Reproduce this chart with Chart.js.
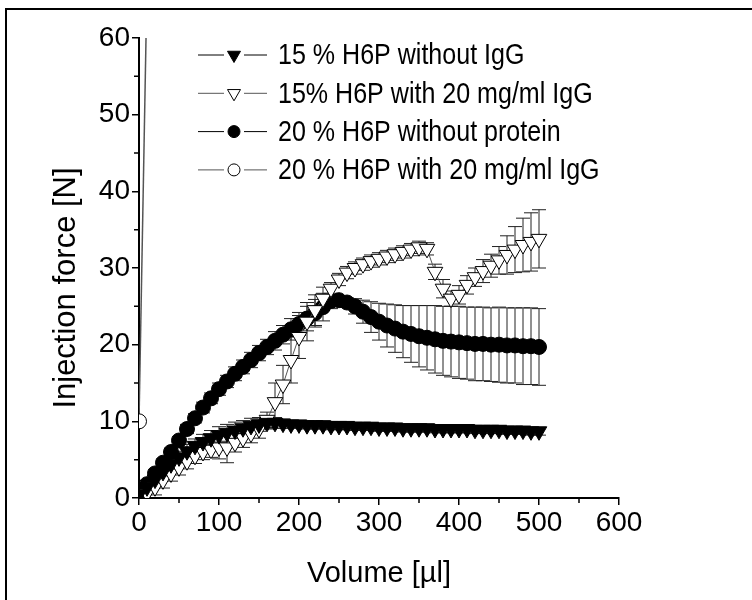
<!DOCTYPE html>
<html>
<head>
<meta charset="utf-8">
<script src="https://cdn.jsdelivr.net/npm/chart.js@4/dist/chart.umd.min.js"></script>
<style>
  html, body { margin: 0; padding: 0; background: #fff; }
  #wrap { position: relative; width: 752px; height: 600px; overflow: hidden; }
  #frame { position: absolute; left: 5px; top: 8px; width: 800px; height: 700px;
           border-left: 2px solid #000; border-top: 2px solid #000; pointer-events: none; }
</style>
</head>
<body>
<div id="wrap">
  <canvas id="chart" width="752" height="600"></canvas>
  <div id="frame"></div>
</div>
<script>
// volume [µl]
const volumeA = [0, 10, 20, 30, 40, 50, 60, 70, 80, 90, 100, 110, 120, 130, 140, 150, 160, 170, 180, 190, 200,
  210, 220, 230, 240, 250, 260, 270, 280, 290, 300, 310, 320, 330, 340, 350, 360, 370, 380, 390, 400,
  410, 420, 430, 440, 450, 460, 470, 480, 490, 500];
const volumeB = [10, 20, 30, 40, 50, 60, 70, 80, 90, 100, 110, 120, 130, 140, 150, 160, 170, 180, 190, 200,
  210, 220, 230, 240, 250, 260, 270, 280, 290, 300, 310, 320, 330, 340, 350, 360, 370, 380, 390, 400,
  410, 420, 430, 440, 450, 460, 470, 480, 490, 500];
const volumeC = [0, 10];

// 15 % H6P without IgG
const h15NoIgG = [0.5, 1.4, 2.4, 3.4, 4.4, 5.3, 6.1, 6.8, 7.3, 7.8, 8.2, 8.5, 8.8, 9.1, 9.4, 9.6, 9.8, 9.8, 9.7, 9.6, 9.6,
  9.5, 9.5, 9.5, 9.4, 9.4, 9.4, 9.3, 9.3, 9.3, 9.2, 9.2, 9.2, 9.1, 9.1, 9.1, 9.1, 9.0, 9.0, 9.0, 9.0,
  9.0, 8.9, 8.9, 8.9, 8.9, 8.8, 8.8, 8.8, 8.7, 8.7];
const h15NoIgGErr = [0.6, 0.6, 0.7, 0.7, 0.8, 0.8, 0.9, 0.9, 1.0, 1.0, 1.1, 1.1, 1.1, 1.0, 1.0, 0.9, 0.8, 0.7, 0.6, 0.5, 0.5,
  0.5, 0.5, 0.5, 0.5, 0.5, 0.5, 0.5, 0.5, 0.5, 0.5, 0.5, 0.5, 0.5, 0.5, 0.5, 0.5, 0.5, 0.5, 0.5, 0.5,
  0.5, 0.5, 0.5, 0.5, 0.5, 0.5, 0.5, 0.5, 0.5, 0.5];

// 15% H6P with 20 mg/ml IgG
const h15IgG = [0.6, 1.4, 2.3, 3.2, 4.0, 4.8, 5.5, 6.0, 6.3, 6.6, 6.6, 7.2, 7.8, 8.4, 9.0, 10.2, 12.5, 14.8, 18.0, 21.0,
  23.0, 24.5, 26.0, 27.3, 28.5, 29.4, 30.0, 30.5, 30.9, 31.2, 31.5, 31.8, 32.1, 32.4, 32.7, 32.5, 29.5, 27.3, 26.0, 26.5,
  27.8, 28.8, 29.6, 30.3, 31.0, 31.7, 32.4, 33.0, 33.4, 33.8];
const h15IgGErr = [1.0, 1.0, 1.0, 1.0, 1.0, 1.0, 1.0, 1.0, 1.0, 1.5, 2.0, 1.2, 1.2, 1.2, 1.2, 1.0, 2.5, 2.5, 3.0, 2.8,
  2.5, 2.0, 1.5, 0.8, 0.8, 0.8, 0.8, 0.8, 0.8, 0.8, 0.8, 0.8, 0.8, 0.8, 0.8, 0.8, 1.0, 1.2, 1.0, 1.2,
  1.2, 1.2, 1.5, 1.5, 1.8, 2.5, 3.0, 3.5, 3.8, 3.8];

// 20 % H6P without protein
const h20NoProt = [0.6, 1.8, 3.2, 4.6, 6.0, 7.5, 9.0, 10.4, 11.8, 13.0, 14.2, 15.2, 16.2, 17.1, 18.0, 18.9, 19.7, 20.5, 21.3, 22.0, 22.7,
  23.4, 24.1, 24.9, 25.7, 25.8, 25.5, 25.0, 24.3, 23.6, 23.0, 22.5, 22.1, 21.7, 21.4, 21.1, 20.9, 20.7, 20.5, 20.4, 20.3,
  20.2, 20.1, 20.1, 20.0, 20.0, 19.9, 19.9, 19.8, 19.8, 19.7];
const h20NoProtErr = [0.5, 0.5, 0.5, 0.5, 0.5, 0.5, 0.6, 0.6, 0.7, 0.7, 0.8, 0.8, 0.9, 0.9, 1.0, 1.0, 1.0, 1.2, 1.2, 1.4, 1.5,
  1.6, 1.8, 1.8, 1.0, 0.3, 0.6, 1.0, 1.5, 2.0, 2.4, 2.8, 3.1, 3.4, 3.7, 4.0, 4.2, 4.4, 4.5, 4.6, 4.7,
  4.7, 4.8, 4.8, 4.8, 4.9, 4.9, 4.9, 5.0, 5.0, 5.0];

// 20 % H6P with 20 mg/ml IgG
const h20IgG = [10, 67];

const labels = [
  '15 % H6P without IgG',
  '15% H6P with 20 mg/ml IgG',
  '20 % H6P without protein',
  '20 % H6P with 20 mg/ml IgG'
];

const xTicks = [0, 100, 200, 300, 400, 500, 600];
const yTicks = [0, 10, 20, 30, 40, 50, 60];

const FONT = 'Liberation Sans, Arial, sans-serif';

const toPoints = (xs, ys) => xs.map((x, i) => ({ x: x, y: ys[i] }));

const errorBars = {
  id: 'errorBars',
  beforeDatasetsDraw(chart) {
    const { ctx, chartArea, scales } = chart;
    ctx.save();
    ctx.beginPath();
    ctx.rect(chartArea.left, chartArea.top, chartArea.right - chartArea.left, chartArea.bottom - chartArea.top);
    ctx.clip();
    ctx.strokeStyle = '#222';
    ctx.lineWidth = 1;
    chart.data.datasets.forEach(ds => {
      if (!ds.errors) return;
      ds.data.forEach((p, i) => {
        const e = ds.errors[i];
        const x = scales.x.getPixelForValue(p.x);
        const y1 = scales.y.getPixelForValue(p.y + e);
        const y2 = scales.y.getPixelForValue(p.y - e);
        ctx.beginPath();
        ctx.moveTo(x, y1); ctx.lineTo(x, y2);
        ctx.moveTo(x - 7, y1); ctx.lineTo(x + 7, y1);
        ctx.moveTo(x - 7, y2); ctx.lineTo(x + 7, y2);
        ctx.stroke();
      });
    });
    ctx.restore();
  }
};

// minor ticks half way between the labelled ones
const minorTicks = {
  id: 'minorTicks',
  afterDraw(chart) {
    const { ctx, scales } = chart;
    const x = scales.x, y = scales.y;
    ctx.save();
    ctx.strokeStyle = '#000';
    ctx.lineWidth = 1.5;
    ctx.beginPath();
    for (let i = 0; i < xTicks.length - 1; i++) {
      const px = x.getPixelForValue((xTicks[i] + xTicks[i + 1]) / 2);
      ctx.moveTo(px, y.bottom); ctx.lineTo(px, y.bottom + 5);
    }
    for (let i = 0; i < yTicks.length - 1; i++) {
      const py = y.getPixelForValue((yTicks[i] + yTicks[i + 1]) / 2);
      ctx.moveTo(x.left, py); ctx.lineTo(x.left - 5, py);
    }
    ctx.stroke();
    ctx.restore();
  }
};

// y title sits a bit below the axis middle in the original
const yTitle = {
  id: 'yTitle',
  afterDraw(chart) {
    const { ctx, chartArea } = chart;
    ctx.save();
    ctx.translate(66, (chartArea.top + chartArea.bottom) / 2 + 20);
    ctx.rotate(-Math.PI / 2);
    ctx.font = '31px ' + FONT;
    ctx.fillStyle = '#000';
    ctx.textAlign = 'center';
    ctx.textBaseline = 'middle';
    ctx.fillText('Injection force [N]', 0, 0);
    ctx.restore();
  }
};

// Origin style legend: line - symbol - line, text a little condensed like the original
const lineLegend = {
  id: 'lineLegend',
  afterDraw(chart) {
    const { ctx, chartArea } = chart;
    const x0 = chartArea.left + 59;
    ctx.save();
    ctx.textBaseline = 'middle';
    chart.data.datasets.forEach((ds, i) => {
      const y = chartArea.top + 17 + i * 38.3;
      ctx.strokeStyle = ds.borderColor;
      ctx.lineWidth = 1;
      ctx.beginPath();
      ctx.moveTo(x0, y); ctx.lineTo(x0 + 26, y);
      ctx.moveTo(x0 + 46, y); ctx.lineTo(x0 + 69, y);
      ctx.stroke();
      ctx.fillStyle = ds.pointBackgroundColor;
      ctx.strokeStyle = '#000';
      ctx.lineWidth = 1;
      Chart.helpers.drawPoint(ctx, {
        pointStyle: ds.pointStyle,
        rotation: ds.pointRotation || 0,
        radius: ds.pointStyle === 'triangle' ? 7.5 : 6,
        borderWidth: 1
      }, x0 + 36, y);
      ctx.save();
      ctx.translate(x0 + 80, y + 1);
      ctx.scale(0.835, 1);
      ctx.font = '30px ' + FONT;
      ctx.fillStyle = '#000';
      ctx.fillText(ds.label, 0, 0);
      ctx.restore();
    });
    ctx.restore();
  }
};

new Chart(document.getElementById('chart'), {
  type: 'line',
  data: {
    datasets: [
      {
        label: labels[0],
        data: toPoints(volumeA, h15NoIgG),
        errors: h15NoIgGErr,
        clip: 0,
        borderColor: '#000',
        borderWidth: 1,
        pointStyle: 'triangle',
        pointRotation: 180,
        pointRadius: 9,
        pointBackgroundColor: '#000',
        pointBorderColor: '#000',
        pointBorderWidth: 1
      },
      {
        label: labels[1],
        data: toPoints(volumeB, h15IgG),
        errors: h15IgGErr,
        clip: 0,
        borderColor: '#555',
        borderWidth: 1,
        pointStyle: 'triangle',
        pointRotation: 180,
        pointRadius: 9,
        pointBackgroundColor: '#fff',
        pointBorderColor: '#000',
        pointBorderWidth: 1
      },
      {
        label: labels[2],
        data: toPoints(volumeA, h20NoProt),
        errors: h20NoProtErr,
        clip: 0,
        borderColor: '#000',
        borderWidth: 1,
        pointStyle: 'circle',
        pointRadius: 7.5,
        pointBackgroundColor: '#000',
        pointBorderColor: '#000',
        pointBorderWidth: 1
      },
      {
        label: labels[3],
        data: toPoints(volumeC, h20IgG),
        clip: 0,
        borderColor: '#555',
        borderWidth: 1.5,
        pointStyle: 'circle',
        pointRadius: [7.5, 0],
        pointBackgroundColor: '#fff',
        pointBorderColor: '#000',
        pointBorderWidth: 1
      }
    ]
  },
  options: {
    responsive: false,
    animation: false,
    layout: { padding: { left: 0, top: 38, right: 133, bottom: 0 } },
    plugins: {
      legend: { display: false },
      tooltip: { enabled: false }
    },
    scales: {
      x: {
        type: 'linear',
        min: 0,
        max: 600,
        afterFit: (scale) => { scale.height = 102; },
        afterBuildTicks: (scale) => { scale.ticks = xTicks.map(v => ({ value: v })); },
        border: { display: true, color: '#000', width: 2 },
        grid: { drawOnChartArea: false, drawTicks: true, tickLength: 7, color: '#000', lineWidth: 1.5 },
        ticks: { color: '#000', padding: 1, maxRotation: 0, font: { family: FONT, size: 28 } },
        title: {
          display: true,
          text: 'Volume [µl]',
          color: '#000',
          font: { family: FONT, size: 29 },
          padding: { top: 0, bottom: 9 }
        }
      },
      y: {
        type: 'linear',
        min: 0,
        max: 60,
        afterFit: (scale) => { scale.width = 139; },
        afterBuildTicks: (scale) => { scale.ticks = yTicks.map(v => ({ value: v })); },
        border: { display: true, color: '#000', width: 2 },
        grid: { drawOnChartArea: false, drawTicks: true, tickLength: 7, color: '#000', lineWidth: 1.5 },
        ticks: { color: '#000', padding: 2, font: { family: FONT, size: 28 } },
        title: { display: false }
      }
    }
  },
  plugins: [errorBars, minorTicks, yTitle, lineLegend]
});
</script>
</body>
</html>
